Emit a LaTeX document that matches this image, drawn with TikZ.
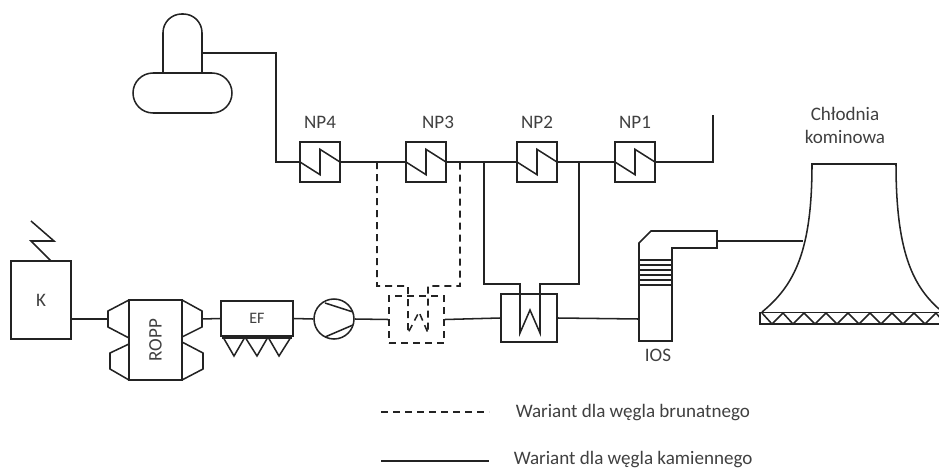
\documentclass[tikz,border=0pt]{standalone}
\usepackage{fontspec}
\setmainfont{Carlito}
\usetikzlibrary{positioning}
\definecolor{labelgray}{RGB}{64,64,64}
\definecolor{linegray}{RGB}{35,35,35}
\begin{document}
\begin{tikzpicture}[x=0.75pt,y=-0.75pt,semithick,line width=1.15pt,color=linegray,
		every node/.append style={text=labelgray,font=\fontsize{14.3}{16}\selectfont}]
		\tikzstyle{heater}=[draw,rectangle,minimum size=30pt,inner sep=0pt,
			path picture={\draw (path picture bounding box.west) -- ++(15pt,-9.5pt) -- ++(0,19pt) -- (path picture bounding box.east);}]
		\tikzstyle{box}=[draw,rectangle,inner sep=0pt]
		\tikzstyle{txt}=[inner sep=0pt]
		\tikzstyle{alt}=[dash pattern=on 5.25pt off 3.75pt]
		
		\useasboundingbox (0,0) rectangle (939,468);
		
		% turbine
		\draw[rounded corners=14pt] (163,73) -- (163,14) -- (202,14) -- (202,73);
		\node[box,rounded corners=15pt,minimum width=74.25pt,minimum height=30pt] (tank) at (182.5,93) {};
		\coordinate (tb) at (202,53);
		\coordinate (c1) at (276,53);
		\coordinate (c2) at (276,162);
		
		% regenerative heaters
		\node[heater] (np4) at (320,162) {};
		\node[heater] (np3) at (426,162) {};
		\node[heater] (np2) at (537,162) {};
		\node[heater] (np1) at (635,162) {};
		\node[txt] (l4) at (320,122) {NP4};
		\node[txt] (l3) at (438,122) {NP3};
		\node[txt] (l2) at (537,122) {NP2};
		\node[txt] (l1) at (635,122) {NP1};
		\coordinate (c3) at (713,162);
		\coordinate (c4) at (713,115);
		
		% boiler
		\node[box,minimum width=45pt,minimum height=58.5pt] (k) at (41,300) {K};
		\coordinate (z0) at (51,261);
		\coordinate (z1) at (31,241);
		\coordinate (z2) at (54,241);
		\coordinate (z3) at (31,221);
		
		% ropp
		\node[box,minimum width=39.75pt,minimum height=60pt] (ropp) at (155.5,340) {\rotatebox{90}{ROPP}};
		\draw (129,300) -- (108,311) -- (108,327) -- (129,338);
		\draw (129,344) -- (110,353) -- (110,369) -- (129,380);
		\draw (182,300) -- (202,311) -- (202,327) -- (182,337);
		\draw (182,342) -- (203,353) -- (203,369) -- (182,380);
		\coordinate (r1) at (108,319);
		\coordinate (r2) at (202,319);
		
		% electrofilter
		\node[box,minimum width=54pt,minimum height=26.25pt] (ef) at (257,318.5) {\fontsize{12}{14}\selectfont EF};
		\draw (222,338) -- (292,338);
		\draw (223,337) -- (234,356) -- (245,337) -- (257,356) -- (268,337) -- (279,356) -- (291,337);
		
		% fan
		\node[draw,circle,minimum size=30pt,inner sep=0pt] (fan) at (334,319) {};
		\draw (325,303) -- (353,312);
		\draw (325,337) -- (353,325);
		
		% flue gas coolers
		\node[box,alt,minimum width=41.25pt,minimum height=35.25pt] (gd) at (416.5,319.5) {};
		\node[box,minimum width=42pt,minimum height=36pt] (gs) at (529,318) {};
		
		% desulphurisation
		\draw (639,341) -- (639,243) -- (651,231) -- (717,231) -- (717,248) -- (672,248) -- (672,341) -- cycle;
		\foreach \y in {260,265,270,275,280,285}
		\draw (639,\y) -- (672,\y);
		\coordinate (i1) at (639,319);
		\coordinate (i2) at (717,241);
		\node[txt] (ios) at (658,355) {IOS};
		
		% cooling tower
		\draw (762,312) .. controls (795,285) and (812,250) .. (812,164) -- (896,164) .. controls (896,250) and (912,285) .. (939,309);
		\draw (760,312.5) rectangle (941,324);
		\draw (762,313) -- (772,324) -- (783,313) -- (793,324) -- (804,313) -- (815,324) -- (826,313) -- (837,324) -- (848,313) -- (859,324) -- (870,313) -- (881,324) -- (892,313) -- (903,324) -- (914,313) -- (925,324) -- (936,313) -- (941,319);
		\coordinate (t1) at (803,241);
		\node[txt] (ch) at (845,114) {Chłodnia};
		\node[txt] (ko) at (845,137) {kominowa};
		
		% legend
		\coordinate (d1) at (381,412);
		\coordinate (d2) at (489,412);
		\coordinate (s1) at (381,461);
		\coordinate (s2) at (489,461);
		\node[txt,anchor=west] (wb) at (515,413) {Wariant dla węgla brunatnego};
		\node[txt,anchor=west] (wk) at (513,460) {Wariant dla węgla kamiennego};
		
		% junctions on the condensate line
		\coordinate (a1) at (377,162);
		\coordinate (a2) at (377,286);
		\coordinate (a3) at (408,286);
		\coordinate (a4) at (408,333);
		\coordinate (a5) at (419,312);
		\coordinate (a6) at (428,333);
		\coordinate (a7) at (428,286);
		\coordinate (a8) at (460,286);
		\coordinate (a9) at (460,162);
		\coordinate (b1) at (484,162);
		\coordinate (b2) at (484,284);
		\coordinate (b3) at (520,284);
		\coordinate (b4) at (520,333);
		\coordinate (b5) at (530,310);
		\coordinate (b6) at (540,333);
		\coordinate (b7) at (540,284);
		\coordinate (b8) at (579,284);
		\coordinate (b9) at (579,162);
		
		\draw (tb) -- (c1) -- (c2) -- (np4.west);
		\path (np4.east) edge (np3.west)
		(np3.east) edge (np2.west)
		(np2.east) edge (np1.west);
		\draw (np1.east) -- (c3) -- (c4);
		\draw (z0) -- (z1) -- (z2) -- (z3);
		\draw[alt] (a1) -- (a2) -- (a3) -- (a4) -- (a5) -- (a6) -- (a7) -- (a8) -- (a9);
		\draw (b1) -- (b2) -- (b3) -- (b4) -- (b5) -- (b6) -- (b7) -- (b8) -- (b9);
		
		\path (k.east |- r1) edge (r1)
		(r2) edge (ef.west)
		(ef.east) edge (fan.west)
		(fan.east) edge (gd.west)
		(gd.east) edge (gs.west)
		(gs.east) edge (i1)
		(i2) edge (t1);
		\draw[alt] (d1) -- (d2);
		\draw (s1) -- (s2);
		\end{tikzpicture}
\end{document}
